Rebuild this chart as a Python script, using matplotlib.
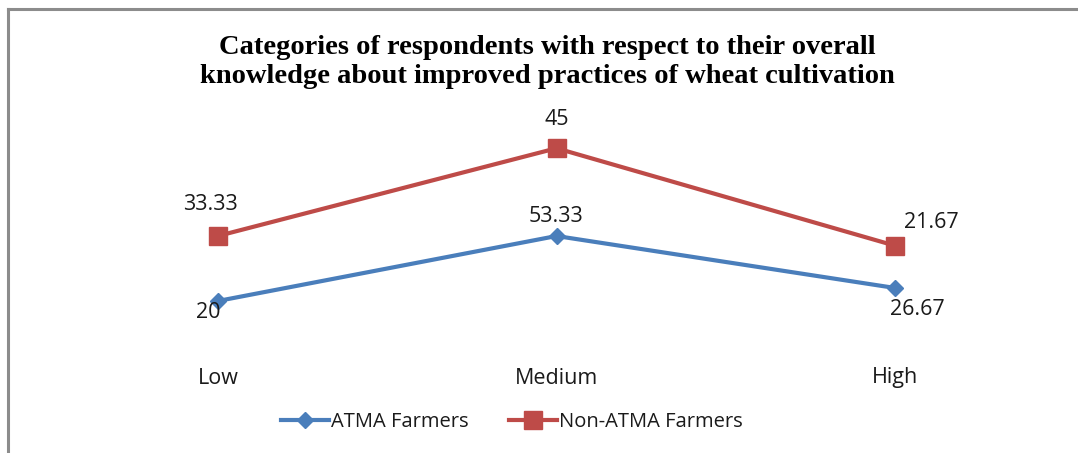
import matplotlib
matplotlib.use("Agg")
import matplotlib.pyplot as plt
from matplotlib.lines import Line2D

categories = ["Low", "Medium", "High"]
atma = [20, 53.33, 26.67]
non_atma = [33.33, 45, 21.67]
series_names = ["ATMA Farmers", "Non-ATMA Farmers"]
title = ("Categories of respondents with respect to their overall\n"
         "knowledge about improved practices of wheat cultivation")

blue = "#4A7EBB"
red = "#BE4B48"

W, H = 1078, 453
fig = plt.figure(figsize=(W / 100, H / 100), dpi=100)
fig.patch.set_facecolor("white")

# frame (top and left visible, like a cropped chart box)
fig.add_artist(Line2D([8 / W, 8 / W], [0, 1 - 9 / H], transform=fig.transFigure,
                      color="#8c8c8c", lw=2.2))
fig.add_artist(Line2D([8 / W, 1], [1 - 9 / H, 1 - 9 / H], transform=fig.transFigure,
                      color="#8c8c8c", lw=2.2))

ax = fig.add_axes([48.5 / W, 1 - 340 / H, 1016 / W, 234 / H])
ax.set_xlim(-0.5, 2.5)
ax.set_ylim(0, 120)
ax.axis("off")

x = list(range(len(categories)))
stacked = [a + b for a, b in zip(atma, non_atma)]

ax.plot(x, atma, color=blue, lw=3, marker="D", ms=8, mfc=blue, mec=blue,
        solid_joinstyle="round", label=series_names[0], clip_on=False)
ax.plot(x, stacked, color=red, lw=3, marker="s", ms=13, mfc=red, mec=red,
        solid_joinstyle="round", label=series_names[1], clip_on=False)

lab_font = dict(family="Open Sans", fontsize=15.5, color="#1a1a1a")
atma_off = [(-10, -12), (0, 20), (22, -22)]
non_off = [(-7, 32), (0, 29), (36, 23)]
for i in x:
    ax.annotate(f"{atma[i]:g}", (i, atma[i]), xytext=atma_off[i], textcoords="offset pixels",
                ha="center", va="center", **lab_font)
    ax.annotate(f"{non_atma[i]:g}", (i, stacked[i]), xytext=non_off[i], textcoords="offset pixels",
                ha="center", va="center", **lab_font)

for i, c in enumerate(categories):
    ax.annotate(c, (i, 0), xytext=(0, -38), textcoords="offset pixels",
                ha="center", va="center", **lab_font)

fig.text(0.508, 1 - 62 / H, title, ha="center", va="center", family="Liberation Serif",
         fontweight="bold", fontsize=20.5, linespacing=1.25, color="black")

handles = [Line2D([], [], color=blue, lw=3, marker="D", ms=8),
           Line2D([], [], color=red, lw=3, marker="s", ms=13)]
fig.legend(handles, series_names, loc="center", bbox_to_anchor=(512 / W, 1 - 422 / H),
           ncol=2, frameon=False, prop=dict(family="Open Sans", size=14.5),
           handlelength=2.4, handletextpad=0.1, columnspacing=2.0, labelcolor="#1a1a1a")

fig.savefig("out.png", dpi=100, facecolor="white")
